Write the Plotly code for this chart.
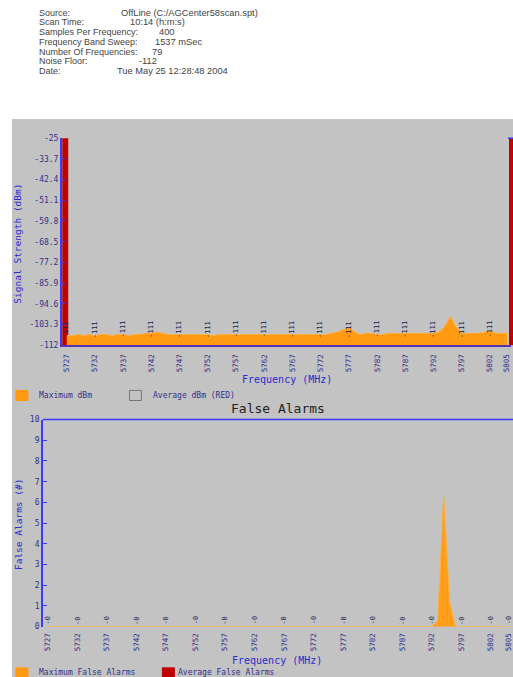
import plotly.graph_objects as go

# ---------------- data ----------------
header_labels = ["Source:", "Scan Time:", "Samples Per Frequency:", "Frequency Band Sweep:",
                 "Number Of Frequencies:", "Noise Floor:", "Date:"]
header_values = ["OffLine (C:/AGCenter58scan.spt)", "10:14 (h:m:s)", "400", "1537 mSec",
                 "79", "-112", "Tue May 25 12:28:48 2004"]
header_value_x = [119, 128, 158, 154, 151, 138, 115]

freqs = [5727, 5728, 5729, 5730, 5731, 5732, 5733, 5734, 5735, 5736, 5737, 5738, 5739, 5740,
         5741, 5742, 5743, 5744, 5745, 5746, 5747, 5748, 5749, 5750, 5751, 5752, 5753, 5754,
         5755, 5756, 5757, 5758, 5759, 5760, 5761, 5762, 5763, 5764, 5765, 5766, 5767, 5768,
         5769, 5770, 5771, 5772, 5773, 5774, 5775, 5776, 5777, 5778, 5779, 5780, 5781, 5782,
         5783, 5784, 5785, 5786, 5787, 5788, 5789, 5790, 5791, 5792, 5793, 5794, 5795, 5796,
         5797, 5798, 5799, 5800, 5801, 5802, 5803, 5804, 5805]

max_dbm = [-108, -108, -107.5, -108, -107.5, -108, -107.5, -107.5, -108, -107.5,
           -107.5, -108, -107.5, -107.5, -107, -107, -106.5, -107, -107.5, -107.5,
           -107.5, -107.5, -107.5, -107.5, -107.5, -107.5, -108, -107.5, -107.5, -107.5,
           -107.5, -107.5, -107.5, -107.5, -107.5, -107.5, -107.5, -107.5, -107.5, -107.5,
           -107.5, -107.5, -107.5, -107.5, -107.5, -107.5, -107.5, -107, -106.5, -105.5,
           -104.5, -106.5, -107.5, -107, -107, -107.5, -107.5, -107, -107, -107,
           -107, -107, -107, -107, -107, -107, -106.5, -104, -100, -104.5,
           -107, -107, -107, -107, -106.5, -106, -107, -107, -107]

noise_floor = -112

max_false_alarms = [0, 0, 0, 0, 0, 0, 0, 0, 0, 0, 0, 0, 0, 0, 0, 0, 0, 0, 0, 0,
                    0, 0, 0, 0, 0, 0, 0, 0, 0, 0, 0, 0, 0, 0, 0, 0, 0, 0, 0, 0,
                    0, 0, 0, 0, 0, 0, 0, 0, 0, 0, 0, 0, 0, 0, 0, 0, 0, 0, 0, 0,
                    0, 0, 0, 0, 0, 0, 0.3, 6.4, 1.2, 0, 0, 0, 0, 0, 0, 0, 0, 0, 0]

tick_freqs = [5727, 5732, 5737, 5742, 5747, 5752, 5757, 5762, 5767, 5772, 5777, 5782,
              5787, 5792, 5797, 5802, 5805]
top_label_freqs = [5727, 5732, 5737, 5742, 5747, 5752, 5757, 5762, 5767, 5772, 5777, 5782,
                   5787, 5792, 5797, 5802]
top_label_vals = [-111, -111, -111, -111, -111, -111, -111, -111, -111, -111, -111, -111,
                  -111, -111, -111, -111]
bot_label_freqs = [5727, 5732, 5737, 5742, 5747, 5752, 5757, 5762, 5767, 5772, 5777, 5782,
                   5787, 5792, 5797, 5802, 5805]
bot_label_vals = [0, 0, 0, 0, 0, 0, 0, 0, 0, 0, 0, 0, 0, 0, 0, 0, 0]

dbm_ticks = [-112, -103.3, -94.6, -85.9, -77.2, -68.5, -59.8, -51.1, -42.4, -33.7, -25]
fa_ticks = [0, 1, 2, 3, 4, 5, 6, 7, 8, 9, 10]

# ---------------- layout helpers ----------------
W, H = 513, 690
def px(x):
    return x / W
def py(y):
    # y given in target picture pixels; compensate for capture offset/scale
    return 1 - ((y - 4.5) / 0.982) / H

GRAY = "#c3c3c3"
ORANGE = "#ff9a12"
RED = "#c00000"
BLUE = "#3a3aff"
NAVY = "#30308a"
TITLEBLUE = "#2a2ad0"
MONO = "DejaVu Sans Mono"
TOP_W = W - 62  # pixel width of top plot area

fig = go.Figure()

# top chart: max dBm area above noise floor
fig.add_trace(go.Scatter(x=freqs, y=[noise_floor] * len(freqs), mode="lines",
                         line=dict(width=0, color=ORANGE), hoverinfo="skip",
                         showlegend=False, xaxis="x", yaxis="y"))
fig.add_trace(go.Scatter(x=freqs, y=max_dbm, mode="lines", fill="tonexty",
                         fillcolor=ORANGE, line=dict(width=1, color="#ffb040"),
                         name="Maximum dBm", showlegend=False, xaxis="x", yaxis="y"))

# bottom chart: false alarms
fig.add_trace(go.Scatter(x=freqs, y=max_false_alarms, mode="lines", fill="tozeroy",
                         fillcolor=ORANGE, line=dict(width=1, color="#ffb040"),
                         fillpattern=dict(shape="|", fgcolor="#ffbe6a", bgcolor=ORANGE,
                                          size=4, solidity=0.2),
                         name="Maximum False Alarms", showlegend=False,
                         xaxis="x2", yaxis="y2"))

annotations = []
# header
for i, (lab, val) in enumerate(zip(header_labels, header_values)):
    yy = 13 + i * 9.7
    annotations.append(dict(text=lab, x=px(37), y=py(yy), xref="paper", yref="paper",
                            xanchor="left", yanchor="middle", showarrow=False,
                            font=dict(family="Liberation Sans", size=9, color="#444444")))
    annotations.append(dict(text=val, x=px(header_value_x[i]), y=py(yy), xref="paper",
                            yref="paper", xanchor="left", yanchor="middle", showarrow=False,
                            font=dict(family="Liberation Sans", size=9.3, color="#444444")))

# data labels
for f, v in zip(top_label_freqs, top_label_vals):
    annotations.append(dict(text=str(v), x=f, y=v, xref="x", yref="y", textangle=-90,
                            xanchor="center", yanchor="bottom", yshift=3, showarrow=False,
                            font=dict(family=MONO, size=7, color="#202050")))
for f, v in zip(bot_label_freqs, bot_label_vals):
    annotations.append(dict(text="-" + str(v), x=f, y=v, xref="x2", yref="y2", textangle=-90,
                            xanchor="center", yanchor="bottom", yshift=0, showarrow=False,
                            font=dict(family=MONO, size=7, color="#303060")))

# axis titles
def ptext(text, x, y, size, color, angle=0):
    return dict(text=text, x=px(x), y=py(y), xref="paper", yref="paper",
                xanchor="center", yanchor="middle", textangle=angle, showarrow=False,
                font=dict(family=MONO, size=size, color=color))

annotations += [
    ptext("Signal Strength (dBm)", 18, 243, 9.5, TITLEBLUE, -90),
    ptext("Frequency (MHz)", 288, 378, 10, TITLEBLUE),
    ptext("False Alarms (#)", 18, 522, 9.5, TITLEBLUE, -90),
    ptext("Frequency (MHz)", 278, 658, 10, TITLEBLUE),
    ptext("False Alarms", 279, 407, 13, "#222222"),
]

# legends (drawn)
legend_items = [("Maximum dBm", 37, 394, ORANGE, ORANGE, 16),
                ("Average dBm (RED)", 152, 394, GRAY, "#777777", 130),
                ("Maximum False Alarms", 37, 670, ORANGE, ORANGE, 16),
                ("Average False Alarms", 177, 670, RED, RED, 163)]
shapes = [
    # gray panel
    dict(type="rect", xref="paper", yref="paper", x0=px(12), x1=px(520), y0=-0.05,
         y1=py(119), fillcolor=GRAY, line=dict(width=0), layer="below"),
]
for text, tx, ty, fc, lc, sx in legend_items:
    annotations.append(dict(text=text, x=px(tx), y=py(ty), xref="paper", yref="paper",
                            xanchor="left", yanchor="middle", showarrow=False,
                            font=dict(family=MONO, size=8, color=NAVY)))
    shapes.append(dict(type="rect", xref="paper", yref="paper", x0=px(sx), x1=px(sx + 12),
                       y0=py(ty + 5), y1=py(ty - 5), fillcolor=fc,
                       line=dict(width=1, color=lc)))

# top chart red frame bars (under traces/labels) and blue top line of bottom chart
shapes += [
    dict(type="rect", xref="x domain", yref="y domain", x0=0.5 / TOP_W, x1=6.5 / TOP_W,
         y0=0, y1=1, fillcolor=RED, line=dict(width=0), layer="below"),
    dict(type="rect", xref="x domain", yref="y domain", x0=(511 - 62) / TOP_W, x1=1.02,
         y0=0, y1=1, fillcolor=RED, line=dict(width=0), layer="below"),
    dict(type="line", xref="paper", yref="paper", x0=px(510), x1=px(520), y0=py(138),
         y1=py(138), line=dict(width=1.5, color=BLUE)),
    dict(type="line", xref="paper", yref="paper", x0=px(43), x1=px(520), y0=py(418),
         y1=py(418), line=dict(width=1.5, color=BLUE)),
]

fig.update_layout(
    width=W, height=H, margin=dict(l=0, r=0, t=0, b=0),
    paper_bgcolor="white", plot_bgcolor=GRAY, showlegend=False,
    annotations=annotations, shapes=shapes,
    xaxis=dict(domain=[px(62), 1.0], range=[5726.12, 5805.71], anchor="y",
               tickvals=tick_freqs, ticktext=[str(t) for t in tick_freqs], tickangle=-90,
               tickfont=dict(family=MONO, size=7.5, color=NAVY), ticks="",
               showgrid=False, zeroline=False, showline=True, linecolor="#5a33b0",
               linewidth=2, ticklabelstandoff=4, ticklabeloverflow="allow"),
    yaxis=dict(domain=[py(344), py(138)], range=[-112, -25], anchor="x",
               tickvals=dbm_ticks, ticktext=[str(t) for t in dbm_ticks],
               tickfont=dict(family=MONO, size=8, color=NAVY), ticks="inside",
               ticklen=3, tickcolor=BLUE, showgrid=False, zeroline=False,
               showline=True, linecolor=BLUE, linewidth=1.5),
    xaxis2=dict(domain=[px(43), 1.0], range=[5726.16, 5805.4], anchor="y2",
                tickvals=tick_freqs, ticktext=[str(t) for t in tick_freqs], tickangle=-90,
                tickfont=dict(family=MONO, size=7.5, color=NAVY), ticks="",
                showgrid=False, zeroline=False, showline=False, ticklabelstandoff=4,
                ticklabeloverflow="allow"),
    yaxis2=dict(domain=[py(624), py(418)], range=[0, 10], anchor="x2",
                tickvals=fa_ticks, tickfont=dict(family=MONO, size=8, color=NAVY),
                ticks="inside", ticklen=4, tickcolor=BLUE, showgrid=False,
                zeroline=False, showline=True, linecolor=BLUE, linewidth=1.5),
)

post = (
    "var gd=document.getElementById('{plot_id}');"
    "document.documentElement.style.margin='0';document.body.style.margin='0';"
    "document.body.style.padding='0';document.body.style.overflow='hidden';"
    "gd.style.position='absolute';gd.style.left='0px';gd.style.top='0px';"
)
fig.write_html("out.html", config={"displayModeBar": False}, post_script=post)
